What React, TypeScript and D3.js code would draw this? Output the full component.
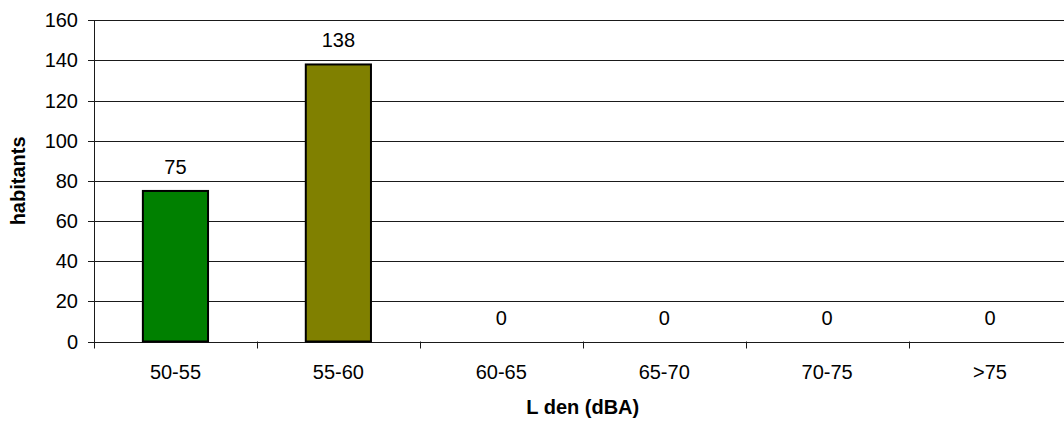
import React from "react";
import * as d3 from "d3";

const categories = ["50-55", "55-60", "60-65", "65-70", "70-75", ">75"];
const values = [75, 138, 0, 0, 0, 0];
const barColors = ["#008000", "#808000", "#008000", "#008000", "#008000", "#008000"];
const yTicks = [0, 20, 40, 60, 80, 100, 120, 140, 160];
const yTitle = "habitants";
const xTitle = "L den (dBA)";

const W = 1064;
const H = 425;
const left = 94;
const right = 1071.5;
const top = 20.3;
const bottom = 341.5;
const FONT = "'Liberation Sans', Arial, sans-serif";
const FS = 20;

export default function App() {
  const x = d3.scaleBand<string>().domain(categories).range([left, right]).paddingInner(0.6).paddingOuter(0.3);
  const xb = d3.scaleBand<string>().domain(categories).range([left, right]).padding(0);
  const y = d3.scaleLinear().domain([0, 160]).range([bottom, top]);
  const r = (v: number) => Math.round(v) + 0.5;

  return (
    <svg width={W} height={H} style={{ position: "absolute", left: 0, top: 0, background: "#fff" }} fontFamily={FONT}>
      <rect x={0} y={0} width={W} height={H} fill="#fff" />
      {/* gridlines */}
      {yTicks.map((t) => (
        <line key={"g" + t} x1={88} x2={right} y1={r(y(t))} y2={r(y(t))} stroke="#1a1a1a" strokeWidth={1} />
      ))}
      {/* y tick labels */}
      {yTicks.map((t) => (
        <text key={"yl" + t} x={78} y={y(t) + 7} textAnchor="end" fontSize={FS} fill="#000">
          {t}
        </text>
      ))}
      {/* y axis */}
      <line x1={94.5} x2={94.5} y1={top} y2={bottom + 6} stroke="#1a1a1a" strokeWidth={1} />
      {/* x ticks */}
      {categories.map((c, i) => (
        <line key={"xt" + c} x1={r(xb(c)!)} x2={r(xb(c)!)} y1={bottom} y2={bottom + 7} stroke="#1a1a1a" strokeWidth={1} />
      ))}
      {/* bars */}
      {categories.map((c, i) =>
        values[i] > 0 ? (
          <rect
            key={"b" + c}
            x={x(c)!}
            y={y(values[i])}
            width={x.bandwidth()}
            height={y(0) - y(values[i])}
            fill={barColors[i]}
            stroke="#000"
            strokeWidth={2}
          />
        ) : null
      )}
      {/* value labels */}
      {categories.map((c, i) => (
        <text
          key={"v" + c}
          x={x(c)! + x.bandwidth() / 2}
          y={y(values[i]) - 17}
          textAnchor="middle"
          fontSize={FS}
          fill="#000"
        >
          {values[i]}
        </text>
      ))}
      {/* category labels */}
      {categories.map((c) => (
        <text key={"cl" + c} x={xb(c)! + xb.bandwidth() / 2} y={379} textAnchor="middle" fontSize={FS} fill="#000">
          {c}
        </text>
      ))}
      {/* axis titles */}
      <text x={(left + right) / 2} y={414} textAnchor="middle" fontSize={FS} fontWeight="bold" fill="#000">
        {xTitle}
      </text>
      <text
        transform={`translate(25, ${(top + bottom) / 2}) rotate(-90)`}
        textAnchor="middle"
        fontSize={FS}
        fontWeight="bold"
        fill="#000"
      >
        {yTitle}
      </text>
    </svg>
  );
}
